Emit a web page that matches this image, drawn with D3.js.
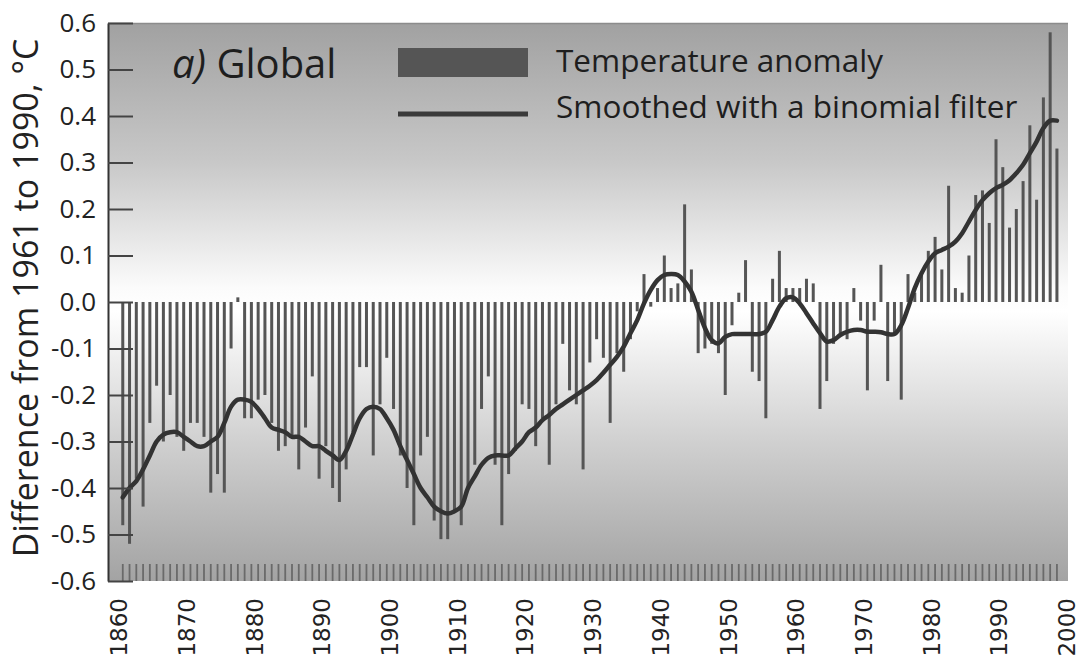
<!DOCTYPE html>
<html>
<head>
<meta charset="utf-8">
<script src="https://cdn.jsdelivr.net/npm/d3@7"></script>
<style>
  html, body { margin: 0; padding: 0; background: #ffffff; }
  svg { display: block; }
</style>
</head>
<body>
<svg id="chart" width="1088" height="666"></svg>
<script>
// Annual global temperature anomalies, 1861–1999 (°C, relative to 1961–1990)
const firstYear = 1861;
const anomaly = [
  -0.48, -0.52, -0.38, -0.44, -0.26, -0.18, -0.30, -0.20, -0.29, -0.32, // 1861-1870
  -0.26, -0.26, -0.29, -0.41, -0.37, -0.41, -0.10,  0.01, -0.25, -0.25, // 1871-1880
  -0.21, -0.20, -0.26, -0.32, -0.31, -0.29, -0.36, -0.27, -0.16, -0.38, // 1881-1890
  -0.31, -0.40, -0.43, -0.36, -0.28, -0.14, -0.14, -0.33, -0.22, -0.12, // 1891-1900
  -0.23, -0.33, -0.40, -0.48, -0.33, -0.29, -0.47, -0.51, -0.51, -0.45, // 1901-1910
  -0.48, -0.40, -0.35, -0.23, -0.16, -0.35, -0.48, -0.37, -0.32, -0.22, // 1911-1920
  -0.23, -0.31, -0.25, -0.35, -0.22, -0.09, -0.19, -0.22, -0.36, -0.13, // 1921-1930
  -0.08, -0.12, -0.26, -0.11, -0.15, -0.08, -0.02,  0.06, -0.01,  0.03, // 1931-1940
   0.10,  0.03,  0.04,  0.21,  0.07, -0.11, -0.10, -0.09, -0.11, -0.20, // 1941-1950
  -0.05,  0.02,  0.09, -0.15, -0.17, -0.25,  0.05,  0.11,  0.03,  0.03, // 1951-1960
   0.03,  0.05,  0.04, -0.23, -0.17, -0.09, -0.07, -0.08,  0.03, -0.04, // 1961-1970
  -0.19, -0.04,  0.08, -0.17, -0.07, -0.21,  0.06,  0.02,  0.06,  0.11, // 1971-1980
   0.14,  0.07,  0.25,  0.03,  0.02,  0.10,  0.23,  0.24,  0.17,  0.35, // 1981-1990
   0.29,  0.16,  0.20,  0.26,  0.38,  0.22,  0.44,  0.58,  0.33        // 1991-1999
];

// Same years, smoothed with a binomial filter
const smoothed = [
  -0.420, -0.400, -0.385, -0.360, -0.330, -0.300, -0.285, -0.280, -0.280, -0.290, // 1861-1870
  -0.300, -0.310, -0.310, -0.300, -0.290, -0.260, -0.225, -0.210, -0.210, -0.215, // 1871-1880
  -0.230, -0.250, -0.270, -0.275, -0.280, -0.290, -0.290, -0.300, -0.310, -0.310, // 1881-1890
  -0.320, -0.330, -0.340, -0.320, -0.285, -0.250, -0.230, -0.225, -0.230, -0.250, // 1891-1900
  -0.275, -0.310, -0.340, -0.370, -0.400, -0.420, -0.440, -0.450, -0.455, -0.450, // 1901-1910
  -0.440, -0.400, -0.375, -0.350, -0.335, -0.330, -0.330, -0.330, -0.315, -0.300, // 1911-1920
  -0.280, -0.270, -0.254, -0.243, -0.230, -0.220, -0.210, -0.200, -0.190, -0.180, // 1921-1930
  -0.168, -0.152, -0.135, -0.118, -0.096, -0.067, -0.039, -0.003,  0.026,  0.047, // 1931-1940
   0.058,  0.060,  0.058,  0.044,  0.022, -0.017, -0.056, -0.082, -0.089, -0.075, // 1941-1950
  -0.069, -0.069, -0.069, -0.069, -0.069, -0.064, -0.039, -0.010,  0.008,  0.010, // 1951-1960
  -0.003, -0.024, -0.046, -0.067, -0.085, -0.082, -0.071, -0.064, -0.060, -0.060, // 1961-1970
  -0.064, -0.064, -0.065, -0.069, -0.069, -0.050, -0.013,  0.030,  0.062,  0.087, // 1971-1980
   0.105,  0.112,  0.119,  0.130,  0.148,  0.173,  0.198,  0.219,  0.234,  0.245, // 1981-1990
   0.252,  0.262,  0.277,  0.295,  0.320,  0.345,  0.374,  0.390,  0.390         // 1991-1999
];

const years = anomaly.map((_, i) => firstYear + i);
const yTickValues = [0.6, 0.5, 0.4, 0.3, 0.2, 0.1, 0.0, -0.1, -0.2, -0.3, -0.4, -0.5, -0.6];
const decadeLabels = [1860, 1870, 1880, 1890, 1900, 1910, 1920, 1930, 1940, 1950, 1960, 1970, 1980, 1990, 2000];
const yearTicks = d3.range(1861, 2000);

const svg = d3.select("#chart");

const x = d3.scaleLinear().domain([1860, 2000]).range([116, 1063.7]);
const y = d3.scaleLinear().domain([-0.6, 0.6]).range([581, 23]);

const panelLeft = 108, panelRight = 1068;

// Background: grey at the extremes fading to white around zero
const defs = svg.append("defs");
const grad = defs.append("linearGradient")
  .attr("id", "panelFill")
  .attr("gradientUnits", "userSpaceOnUse")
  .attr("x1", 0).attr("x2", 0)
  .attr("y1", y(0.6)).attr("y2", y(-0.6));
const span = y(-0.6) - y(0.6);
[
  [y(0.6), "#a1a1a1"],
  [y(0.3), "#c8c8c8"],
  [y(0.03), "#fbfbfb"],
  [y(-0.02), "#ffffff"],
  [y(-0.3), "#d0d0d0"],
  [y(-0.6), "#a3a3a3"]
].forEach(([py, c]) => {
  grad.append("stop").attr("offset", (py - y(0.6)) / span).attr("stop-color", c);
});

svg.append("rect")
  .attr("x", panelLeft).attr("y", y(0.6))
  .attr("width", panelRight - panelLeft).attr("height", span)
  .attr("fill", "url(#panelFill)");

svg.append("line")
  .attr("x1", panelLeft).attr("x2", panelRight)
  .attr("y1", y(0.6) + 0.5).attr("y2", y(0.6) + 0.5)
  .attr("stroke", "#8c8c8c").attr("stroke-width", 1.5);

// Yearly tick marks along the bottom of the panel
svg.append("g")
  .selectAll("line")
  .data(yearTicks)
  .join("line")
  .attr("x1", d => x(d)).attr("x2", d => x(d))
  .attr("y1", y(-0.6)).attr("y2", y(-0.6) - 17)
  .attr("stroke", "#6a6a6a").attr("stroke-width", 1.8);

// Anomaly bars
svg.append("g")
  .selectAll("rect")
  .data(years.map((yr, i) => ({ yr, v: anomaly[i] })))
  .join("rect")
  .attr("x", d => x(d.yr) - 1.5)
  .attr("width", 3)
  .attr("y", d => y(Math.max(0, d.v)))
  .attr("height", d => Math.abs(y(d.v) - y(0)))
  .attr("fill", "#555555");

// Smoothed curve
const line = d3.line()
  .x(d => x(d.yr))
  .y(d => y(d.v))
  .curve(d3.curveCatmullRom);

svg.append("path")
  .datum(years.map((yr, i) => ({ yr, v: smoothed[i] })))
  .attr("d", line)
  .attr("fill", "none")
  .attr("stroke", "#333333")
  .attr("stroke-width", 4.5)
  .attr("stroke-linejoin", "round")
  .attr("stroke-linecap", "round");

// Y axis with inward ticks
const yAxis = d3.axisLeft(y)
  .tickValues(yTickValues)
  .tickSizeInner(-25)
  .tickSizeOuter(0)
  .tickPadding(12)
  .tickFormat(d => d.toFixed(1));

const gy = svg.append("g")
  .attr("transform", `translate(${panelLeft},0)`)
  .call(yAxis);
gy.select(".domain").attr("stroke", "#333").attr("stroke-width", 2);
gy.selectAll(".tick line").attr("stroke", "#444").attr("stroke-width", 2);
gy.selectAll(".tick text")
  .attr("font-family", "'Open Sans', sans-serif")
  .attr("font-size", 26)
  .attr("fill", "#222");

// Decade labels, rotated
svg.append("g")
  .selectAll("text")
  .data(decadeLabels)
  .join("text")
  .attr("transform", d => `translate(${x(d) + 3},598) rotate(-90)`)
  .attr("text-anchor", "end")
  .attr("dy", "0.36em")
  .attr("font-family", "'DejaVu Sans', sans-serif")
  .attr("font-size", 23)
  .attr("fill", "#222")
  .text(d => d);

// Y axis title
svg.append("text")
  .attr("transform", "translate(38,298) rotate(-90)")
  .attr("text-anchor", "middle")
  .attr("font-family", "'Open Sans', sans-serif")
  .attr("font-size", 34)
  .attr("fill", "#222")
  .text("Difference from 1961 to 1990, °C");

// Panel title
const title = svg.append("text")
  .attr("x", 172).attr("y", 78)
  .attr("font-family", "'Open Sans', sans-serif")
  .attr("font-size", 40)
  .attr("fill", "#1e1e1e");
title.append("tspan").attr("font-style", "italic").text("a)");
title.append("tspan").text(" Global");

// Legend
svg.append("rect")
  .attr("x", 398).attr("y", 48).attr("width", 130).attr("height", 29)
  .attr("fill", "#555555");
svg.append("line")
  .attr("x1", 398).attr("x2", 528).attr("y1", 114).attr("y2", 114)
  .attr("stroke", "#3a3a3a").attr("stroke-width", 5);

const legendText = [
  { label: "Temperature anomaly", y: 72 },
  { label: "Smoothed with a binomial filter", y: 118 }
];
svg.append("g")
  .selectAll("text")
  .data(legendText)
  .join("text")
  .attr("x", 556).attr("y", d => d.y)
  .attr("font-family", "'Open Sans', sans-serif")
  .attr("font-size", 31.5)
  .attr("fill", "#1e1e1e")
  .text(d => d.label);
</script>
</body>
</html>
